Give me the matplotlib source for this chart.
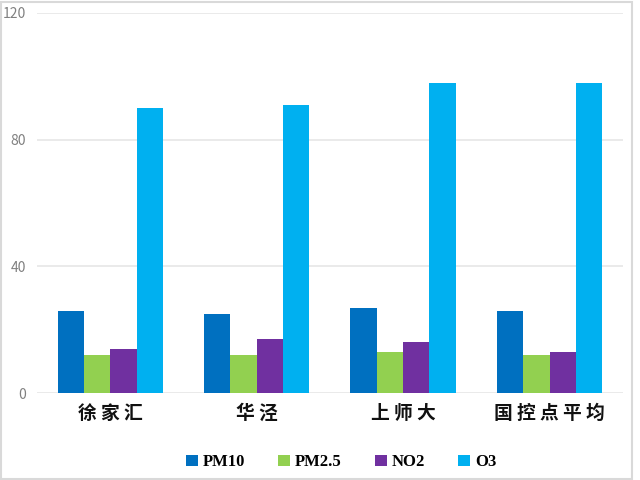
import matplotlib
matplotlib.use("Agg")
import matplotlib.pyplot as plt
from matplotlib.patches import Rectangle
import numpy as np

plt.rcParams['font.family'] = ['Noto Sans CJK SC', 'DejaVu Sans']

sites = ["徐 家 汇", "华 泾", "上 师 大", "国 控 点 平 均"]
pm10 = [26, 25, 27, 26]
pm25 = [12, 12, 13, 12]
no2 = [14, 17, 16, 13]
o3 = [90, 91, 98, 98]

series = [
    ("PM10", pm10, "#0070C0"),
    ("PM2.5", pm25, "#92D050"),
    ("NO2", no2, "#7030A0"),
    ("O3", o3, "#00B0F0"),
]

fig = plt.figure(figsize=(6.4, 4.8), dpi=100)
ax = fig.add_axes([0.058, 0.181, 0.915, 0.792])

x = np.arange(len(sites))
w = 0.18
for i, (name, vals, color) in enumerate(series):
    ax.bar(x + (i - 1.5) * w, vals, w, color=color, label=name, zorder=3)

ax.set_xlim(-0.5, len(sites) - 0.5)
ax.set_ylim(0, 120)
ax.set_yticks([0, 40, 80, 120])
ax.yaxis.grid(True, color="#e6e6e6", linewidth=1.2, zorder=0)
ax.tick_params(axis="y", length=0, labelsize=10, labelcolor="#808080", pad=8)
ax.tick_params(axis="x", length=0, pad=8)
ax.set_xticks(x)
ax.set_xticklabels(sites, fontsize=13.5, fontweight="bold", color="#111111")
for s in ax.spines.values():
    s.set_visible(False)

leg = fig.legend(loc="center", bbox_to_anchor=(0.533, 0.037), ncol=4,
                 frameon=False, handlelength=0.7, handleheight=0.7,
                 handletextpad=0.3, columnspacing=2.0,
                 prop={"family": "Liberation Serif", "weight": "bold", "size": 12})

# light frame around the chart
fig.patches.append(Rectangle((0.002, 0.002), 0.985, 0.994, transform=fig.transFigure,
                             fill=False, edgecolor="#d9d9d9", linewidth=1.5))

fig.savefig("out.png", dpi=100)
